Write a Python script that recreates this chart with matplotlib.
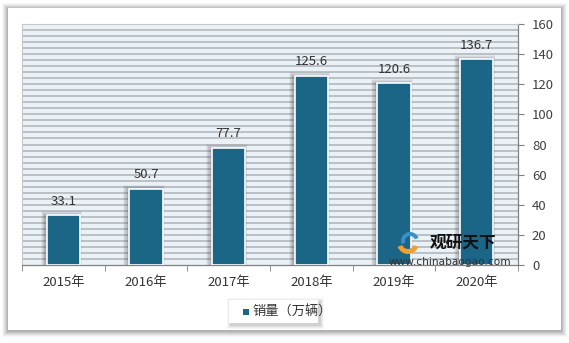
import matplotlib
matplotlib.use("Agg")
import matplotlib.pyplot as plt
from matplotlib.patches import Rectangle, Wedge
import numpy as np

plt.rcParams['font.family'] = ['Noto Sans CJK SC', 'DejaVu Sans']

categories = ["2015年", "2016年", "2017年", "2018年", "2019年", "2020年"]
values = [33.1, 50.7, 77.7, 125.6, 120.6, 136.7]
legend_label = "销量（万辆）"
y_ticks = [0, 20, 40, 60, 80, 100, 120, 140, 160]

W, H = 569, 343
fig = plt.figure(figsize=(W / 100, H / 100), dpi=100)
fig.patch.set_facecolor("white")

def px(x0, y0, x1, y1):
    return (x0 / W, 1 - y1 / H, (x1 - x0) / W, (y1 - y0) / H)

# panel shadow
for d, a in [(6, 0.03), (5, 0.04), (4, 0.05), (3, 0.06), (2, 0.07), (1, 0.08)]:
    x, y, w, h = px(8 - d, 8 - d + 1, 561 + d, 330 + d + 1)
    fig.patches.append(Rectangle((x, y), w, h, transform=fig.transFigure,
                                 facecolor="black", alpha=a, edgecolor="none", zorder=0))
x, y, w, h = px(8, 8, 561, 330)
fig.patches.append(Rectangle((x, y), w, h, transform=fig.transFigure,
                             facecolor="white", edgecolor="none", zorder=1))

ax = fig.add_axes(px(22, 24, 518, 265))
ax.set_zorder(2)
ax.set_facecolor("#eaf2f8")
bar_color = "#1b6687"
xs = np.arange(len(categories))
bw = 0.40
pxx = 1 / 82.7
pxy = 160 / 241

# gridlines every 4 units
for g in np.arange(4, 160, 4):
    ax.axhline(g, color="#b8bcc0", lw=1.3, zorder=1)

# soft bar shadows (mostly to the left)
for i, v in enumerate(values):
    for dl, dr, dt, a in [(6, 2, 4, 0.06), (5, 1.5, 3, 0.08), (4, 1, 2, 0.10), (2.5, 0.5, 1, 0.14)]:
        ax.add_patch(Rectangle((i - bw / 2 - dl * pxx, 0), bw + (dl + dr) * pxx,
                               v + dt * pxy, facecolor="#303030", alpha=a,
                               edgecolor="none", zorder=2))

ax.bar(xs, values, width=bw, color=bar_color, edgecolor="white", linewidth=1.2, zorder=3)
for i, v in enumerate(values):
    ax.text(i, v + 5, f"{v:.1f}", ha="center", va="bottom", fontsize=9.5,
            color="#333333", zorder=4)

ax.set_xlim(-0.5, len(categories) - 0.5)
ax.set_ylim(0, 160)
ax.yaxis.tick_right()
ax.set_yticks(y_ticks)
ax.set_yticklabels([str(t) for t in y_ticks], fontsize=9.5, color="#404040")
ax.tick_params(axis="y", direction="out", length=4, color="#808080", pad=6)
ax.set_xticks(xs)
ax.set_xticklabels(categories, fontsize=9.5, color="#333333")
ax.set_xticks(np.arange(-0.5, len(categories), 1), minor=True)
ax.tick_params(axis="x", which="major", length=0, pad=8)
ax.tick_params(axis="x", which="minor", direction="out", length=4, color="#808080")
for s in ["left", "top"]:
    ax.spines[s].set_color("#c8c8c8")
    ax.spines[s].set_linewidth(0.8)
for s in ["right", "bottom"]:
    ax.spines[s].set_color("#808080")
    ax.spines[s].set_linewidth(0.9)

# legend box with shadow
for d, a in [(4, 0.03), (3, 0.04), (2, 0.05), (1, 0.06)]:
    x, y, w, h = px(229 - d + 2, 300 - d + 2, 318 + d + 2, 323 + d + 2)
    fig.patches.append(Rectangle((x, y), w, h, transform=fig.transFigure,
                                 facecolor="black", alpha=a, edgecolor="none", zorder=3))
x, y, w, h = px(229, 300, 318, 323)
fig.patches.append(Rectangle((x, y), w, h, transform=fig.transFigure,
                             facecolor="white", edgecolor="none", zorder=4))
x, y, w, h = px(243, 309, 249, 315)
fig.patches.append(Rectangle((x, y), w, h, transform=fig.transFigure,
                             facecolor=bar_color, edgecolor="none", zorder=5))
fig.text(252 / W, 1 - 312 / H, legend_label, fontsize=9.5, color="#333333",
         ha="left", va="center", zorder=6)

# watermark
fig.patches.append(Wedge((408, H - 243), 11, 200, 340, width=5, transform=None,
                         facecolor="#f0a030", edgecolor="none", zorder=6))
fig.patches.append(Wedge((410, H - 241), 9, 20, 200, width=4, transform=None,
                         facecolor="#3a8fc8", edgecolor="none", zorder=6))
fig.text(430 / W, 1 - 243 / H, "观研天下", fontsize=12, fontweight="bold",
         color="#111111", ha="left", va="center", zorder=6)
fig.text(450 / W, 1 - 262 / H, "www.chinabaogao.com", fontsize=7.6,
         color="#333333", ha="center", va="center", zorder=6,
         family=["DejaVu Sans"])

fig.savefig("out.png", dpi=100)
